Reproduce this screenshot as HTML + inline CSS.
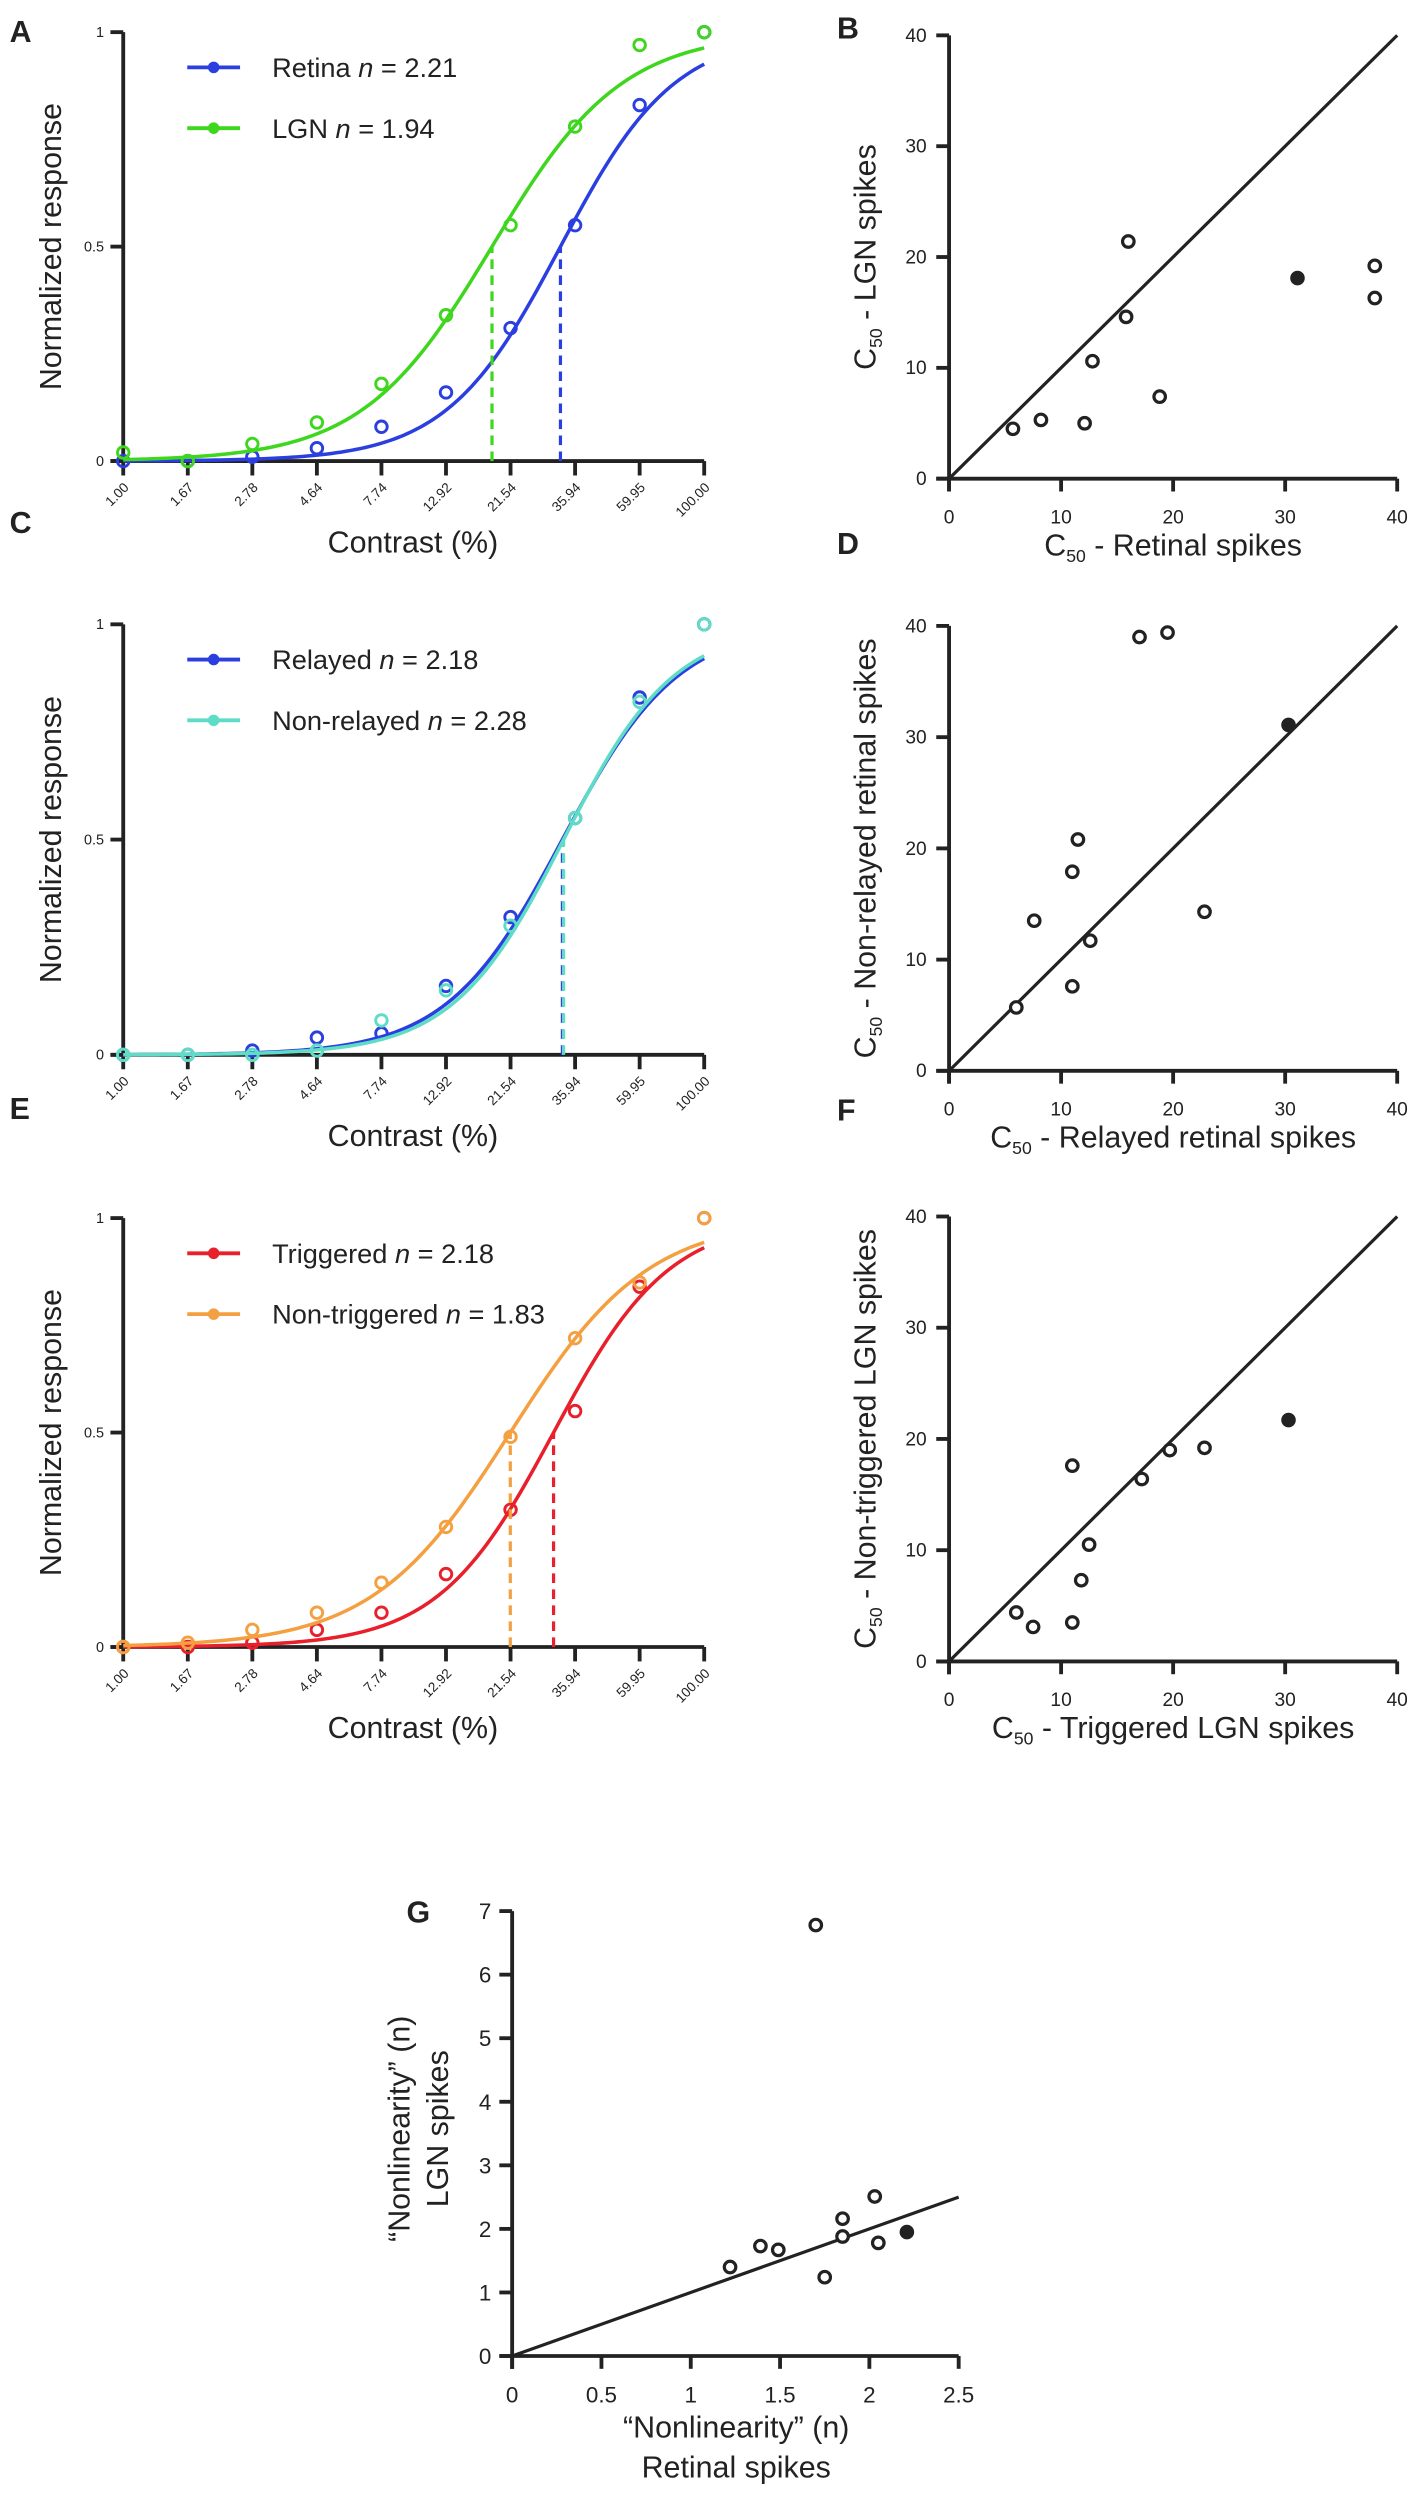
<!DOCTYPE html>
<html><head><meta charset="utf-8">
<style>
html,body{margin:0;padding:0;background:#fff;}
svg{display:block;}
text{font-family:"Liberation Sans",Arial,sans-serif;fill:#222;}
</style></head>
<body>
<svg id="fig" width="1418" height="2497" viewBox="0 0 886 1560" xmlns="http://www.w3.org/2000/svg"></svg>
<script>
// ---- data ----
const contrastLabels = ['1.00','1.67','2.78','4.64','7.74','12.92','21.54','35.94','59.95','100.00'];
const contrastValues = [1,1.67,2.78,4.64,7.74,12.92,21.54,35.94,59.95,100];
const retinaResp = [0,0,0.01,0.03,0.08,0.16,0.31,0.55,0.83,1.0];
const lgnResp = [0.02,0,0.04,0.09,0.18,0.34,0.55,0.78,0.97,1.0];
const retinaFit = [32,2.21];
const lgnFit = [18.6,1.94];
const relayedResp = [0,0,0.01,0.04,0.05,0.16,0.32,0.55,0.83,1.0];
const nonRelayedResp = [0,0,0,0.01,0.08,0.15,0.30,0.55,0.82,1.0];
const relayedFit = [32.5,2.18];
const nonRelayedFit = [32.8,2.28];
const triggeredResp = [0,0,0.01,0.04,0.08,0.17,0.32,0.55,0.84,1.0];
const nonTriggeredResp = [0,0.01,0.04,0.08,0.15,0.28,0.49,0.72,0.85,1.0];
const triggeredFit = [30.3,2.18];
const nonTriggeredFit = [21.5,1.83];
const yTicksResp = [0,0.5,1];
const yTickLabelsResp = ['0','0.5','1'];

const c50Ticks = [0,10,20,30,40];
const bX = [5.7,8.2,12.1,12.8,15.8,16.0,18.8,38.0,38.0,31.1];
const bY = [4.5,5.3,5.0,10.6,14.6,21.4,7.4,19.2,16.3,18.1];
const bFilled = [0,0,0,0,0,0,0,0,0,1];
const dX = [6.0,7.6,11.0,11.0,11.5,12.6,17.0,19.5,22.8,30.3];
const dY = [5.7,13.5,7.6,17.9,20.8,11.7,39.0,39.4,14.3,31.1];
const dFilled = [0,0,0,0,0,0,0,0,0,1];
const fX = [6.0,7.5,11.0,11.0,11.8,12.5,17.2,19.7,22.8,30.3];
const fY = [4.4,3.1,3.5,17.6,7.3,10.5,16.4,19.0,19.2,21.7];
const fFilled = [0,0,0,0,0,0,0,0,0,1];
const gXTicks = [0,0.5,1,1.5,2,2.5];
const gXTickLabels = ['0','0.5','1','1.5','2','2.5'];
const gYTicks = [0,1,2,3,4,5,6,7];
const gX = [1.22,1.39,1.49,1.70,1.75,1.85,1.85,2.03,2.05,2.21];
const gY = [1.40,1.73,1.67,6.78,1.24,2.16,1.88,2.51,1.78,1.95];
const gFilled = [0,0,0,0,0,0,0,0,0,1];

// ---- helpers ----
const svg = document.getElementById('fig');
const NS = 'http://www.w3.org/2000/svg';
function mk(tag, attrs, parent){
  const e = document.createElementNS(NS, tag);
  for (const k in attrs) e.setAttribute(k, attrs[k]);
  (parent||svg).appendChild(e);
  return e;
}
const INK = '#222';

function contrastPanel(letter, labelY, top, bottom, series){
  const g = mk('g', {});
  
  
  const x0 = 77, x1 = 440;
  const step = (x1 - x0) / (contrastValues.length - 1);
  const xi = i => x0 + i * step;
  const xc = c => x0 + (Math.log10(c) / 2) * (x1 - x0);
  const ys = v => bottom - v * (bottom - top);
  const lab = mk('text', {x: 6, y: labelY, 'font-size': 19, 'font-weight': 'bold'}, g);
  lab.textContent = letter;
  
  
  const ya = mk('line', {x1: x0, y1: top, x2: x0, y2: bottom, stroke: INK, 'stroke-width': 2.4}, g);
  
  
  const xa = mk('line', {x1: x0 - 8, y1: bottom, x2: x1, y2: bottom, stroke: INK, 'stroke-width': 2.4}, g);
  
  
  yTicksResp.forEach((v, i) => {
    mk('line', {x1: x0 - 8, y1: ys(v), x2: x0, y2: ys(v), stroke: INK, 'stroke-width': 2.4}, g);
    const t = mk('text', {x: x0 - 12, y: ys(v) + 3, 'font-size': 9, 'text-anchor': 'end'}, g);
    t.textContent = yTickLabelsResp[i];
    
    
  });
  contrastLabels.forEach((l, i) => {
    mk('line', {x1: xi(i), y1: bottom, x2: xi(i), y2: bottom + 9, stroke: INK, 'stroke-width': 2.4}, g);
    const t = mk('text', {x: xi(i) + 4, y: bottom + 17, 'font-size': 8.5, 'text-anchor': 'end', transform: 'rotate(-45 ' + (xi(i) + 4) + ' ' + (bottom + 17) + ')'}, g);
    t.textContent = l;
    
    
  });
  const xt = mk('text', {x: 258, y: bottom + 57, 'font-size': 19, 'text-anchor': 'middle'}, g);
  xt.textContent = 'Contrast (%)';
  
  
  const ymid = (top + bottom) / 2;
  const yt = mk('text', {x: 38, y: ymid, 'font-size': 19, 'text-anchor': 'middle', transform: 'rotate(-90 38 ' + ymid + ')'}, g);
  yt.textContent = 'Normalized response';
  
  
  series.forEach((s, si) => {
    const c50 = s.fit[0], n = s.fit[1];
    const dl = mk('line', {x1: xc(c50), y1: bottom, x2: xc(c50), y2: ys(0.5), stroke: s.color, 'stroke-width': 2, 'stroke-dasharray': '6,4'}, g);
    
    
    let d = '';
    for (let k = 0; k <= 120; k++){
      const c = Math.pow(10, 2 * k / 120);
      const r = Math.pow(c, n) / (Math.pow(c, n) + Math.pow(c50, n));
      d += (k ? 'L' : 'M') + xc(c).toFixed(2) + ',' + ys(r).toFixed(2);
    }
    const p = mk('path', {d: d, fill: 'none', stroke: s.color, 'stroke-width': 2.2}, g);
    
    
    s.resp.forEach((v, i) => {
      const c = mk('circle', {cx: xi(i), cy: ys(v), r: 3.6, fill: 'none', stroke: s.color, 'stroke-width': 1.8}, g);
      
      
    });
    const ly = top + 22 + si * 38;
    const ll = mk('line', {x1: 117, y1: ly, x2: 150, y2: ly, stroke: s.color, 'stroke-width': 2.4}, g);
    
    
    mk('circle', {cx: 133.5, cy: ly, r: 3.6, fill: s.color}, g);
    const lt = mk('text', {x: 170, y: ly + 6, 'font-size': 17}, g);
    
    
    lt.appendChild(document.createTextNode(s.label + '  '));
    const it = mk('tspan', {'font-style': 'italic'}, lt);
    it.textContent = 'n';
    lt.appendChild(document.createTextNode(' = ' + n.toFixed(2)));
  });
}

function scatterPanel(letter, labelY, top, bottom, xs, ysArr, filled, xTitle, yTitle){
  const g = mk('g', {});
  
  
  const x0 = 593, x1 = 873;
  const sx = v => x0 + v / 40 * (x1 - x0);
  const sy = v => bottom - v / 40 * (bottom - top);
  const lab = mk('text', {x: 523, y: labelY, 'font-size': 19, 'font-weight': 'bold'}, g);
  lab.textContent = letter;
  
  
  const ya = mk('line', {x1: x0, y1: top, x2: x0, y2: bottom + 8, stroke: INK, 'stroke-width': 2.4}, g);
  
  
  const xa = mk('line', {x1: x0 - 8, y1: bottom, x2: x1, y2: bottom, stroke: INK, 'stroke-width': 2.4}, g);
  
  
  c50Ticks.forEach(v => {
    mk('line', {x1: x0 - 8, y1: sy(v), x2: x0, y2: sy(v), stroke: INK, 'stroke-width': 2.4}, g);
    mk('line', {x1: sx(v), y1: bottom, x2: sx(v), y2: bottom + 8, stroke: INK, 'stroke-width': 2.4}, g);
    const t = mk('text', {x: x0 - 14, y: sy(v) + 4, 'font-size': 12, 'text-anchor': 'end'}, g);
    t.textContent = v;
    
    
    const t2 = mk('text', {x: sx(v), y: bottom + 28, 'font-size': 12, 'text-anchor': 'middle'}, g);
    t2.textContent = v;
    
    
  });
  const diag = mk('line', {x1: sx(0), y1: sy(0), x2: sx(40), y2: sy(40), stroke: INK, 'stroke-width': 2}, g);
  
  
  xs.forEach((v, i) => {
    const c = mk('circle', {cx: sx(v), cy: sy(ysArr[i]), r: filled[i] ? 4.3 : 3.6, fill: filled[i] ? INK : '#fff', stroke: INK, 'stroke-width': filled[i] ? 0.5 : 2}, g);
    
    
  });
  const xt = mk('text', {x: 733, y: bottom + 48, 'font-size': 19, 'text-anchor': 'middle'}, g);
  
  
  xt.appendChild(document.createTextNode('C'));
  const s1 = mk('tspan', {'font-size': 11, dy: 4}, xt); s1.textContent = '50';
  const s2 = mk('tspan', {dy: -4}, xt); s2.textContent = ' - ' + xTitle;
  const ymid = (top + bottom) / 2;
  const yt = mk('text', {x: 547, y: ymid, 'font-size': 19, 'text-anchor': 'middle', transform: 'rotate(-90 547 ' + ymid + ')'}, g);
  
  
  yt.appendChild(document.createTextNode('C'));
  const s3 = mk('tspan', {'font-size': 11, dy: 4}, yt); s3.textContent = '50';
  const s4 = mk('tspan', {dy: -4}, yt); s4.textContent = ' - ' + yTitle;
}

contrastPanel('A', 26, 20, 288, [
  {key: 'retina', label: 'Retina', color: '#2b3fe0', resp: retinaResp, fit: retinaFit},
  {key: 'lgn', label: 'LGN', color: '#3fd61e', resp: lgnResp, fit: lgnFit}
]);
contrastPanel('C', 333, 390, 659, [
  {key: 'relayed', label: 'Relayed', color: '#2b3fe0', resp: relayedResp, fit: relayedFit},
  {key: 'non-relayed', label: 'Non-relayed', color: '#5fdcc6', resp: nonRelayedResp, fit: nonRelayedFit}
]);
contrastPanel('E', 699, 761, 1029, [
  {key: 'triggered', label: 'Triggered', color: '#e8202c', resp: triggeredResp, fit: triggeredFit},
  {key: 'non-triggered', label: 'Non-triggered', color: '#f4a040', resp: nonTriggeredResp, fit: nonTriggeredFit}
]);

scatterPanel('B', 24, 22, 299, bX, bY, bFilled, 'Retinal spikes', 'LGN spikes');
scatterPanel('D', 346, 391, 669, dX, dY, dFilled, 'Relayed retinal spikes', 'Non-relayed retinal spikes');
scatterPanel('F', 700, 760, 1038, fX, fY, fFilled, 'Triggered LGN spikes', 'Non-triggered LGN spikes');

// ---- panel G ----
(function(){
  const g = mk('g', {});
  
  
  const x0 = 320, x1 = 599, top = 1194, bottom = 1472;
  const sx = v => x0 + v / 2.5 * (x1 - x0);
  const sy = v => bottom - v / 7 * (bottom - top);
  const lab = mk('text', {x: 254, y: 1201, 'font-size': 19, 'font-weight': 'bold'}, g);
  lab.textContent = 'G';
  
  
  const ya = mk('line', {x1: x0, y1: top, x2: x0, y2: bottom + 8, stroke: INK, 'stroke-width': 2.4}, g);
  
  
  const xa = mk('line', {x1: x0 - 8, y1: bottom, x2: x1, y2: bottom, stroke: INK, 'stroke-width': 2.4}, g);
  
  
  gYTicks.forEach(v => {
    mk('line', {x1: x0 - 8, y1: sy(v), x2: x0, y2: sy(v), stroke: INK, 'stroke-width': 2.4}, g);
    const t = mk('text', {x: x0 - 13, y: sy(v) + 5, 'font-size': 14, 'text-anchor': 'end'}, g);
    t.textContent = v;
    
    
  });
  gXTicks.forEach((v, i) => {
    mk('line', {x1: sx(v), y1: bottom, x2: sx(v), y2: bottom + 8, stroke: INK, 'stroke-width': 2.4}, g);
    const t = mk('text', {x: sx(v), y: bottom + 29, 'font-size': 14, 'text-anchor': 'middle'}, g);
    t.textContent = gXTickLabels[i];
    
    
  });
  const diag = mk('line', {x1: sx(0), y1: sy(0), x2: sx(2.5), y2: sy(2.5), stroke: INK, 'stroke-width': 2}, g);
  
  
  gX.forEach((v, i) => {
    const c = mk('circle', {cx: sx(v), cy: sy(gY[i]), r: gFilled[i] ? 4.3 : 3.6, fill: gFilled[i] ? INK : '#fff', stroke: INK, 'stroke-width': gFilled[i] ? 0.5 : 2}, g);
    
    
  });
  const xt1 = mk('text', {x: 460, y: 1523, 'font-size': 19, 'text-anchor': 'middle'}, g);
  xt1.textContent = '\u201cNonlinearity\u201d (n)';
  
  
  const xt2 = mk('text', {x: 460, y: 1548, 'font-size': 19, 'text-anchor': 'middle'}, g);
  xt2.textContent = 'Retinal spikes';
  
  
  const ym = 1330;
  const yt1 = mk('text', {x: 256, y: ym, 'font-size': 19, 'text-anchor': 'middle', transform: 'rotate(-90 256 ' + ym + ')'}, g);
  yt1.textContent = '\u201cNonlinearity\u201d (n)';
  
  
  const yt2 = mk('text', {x: 280, y: ym, 'font-size': 19, 'text-anchor': 'middle', transform: 'rotate(-90 280 ' + ym + ')'}, g);
  yt2.textContent = 'LGN spikes';
  
  
})();
</script>
</body></html>
